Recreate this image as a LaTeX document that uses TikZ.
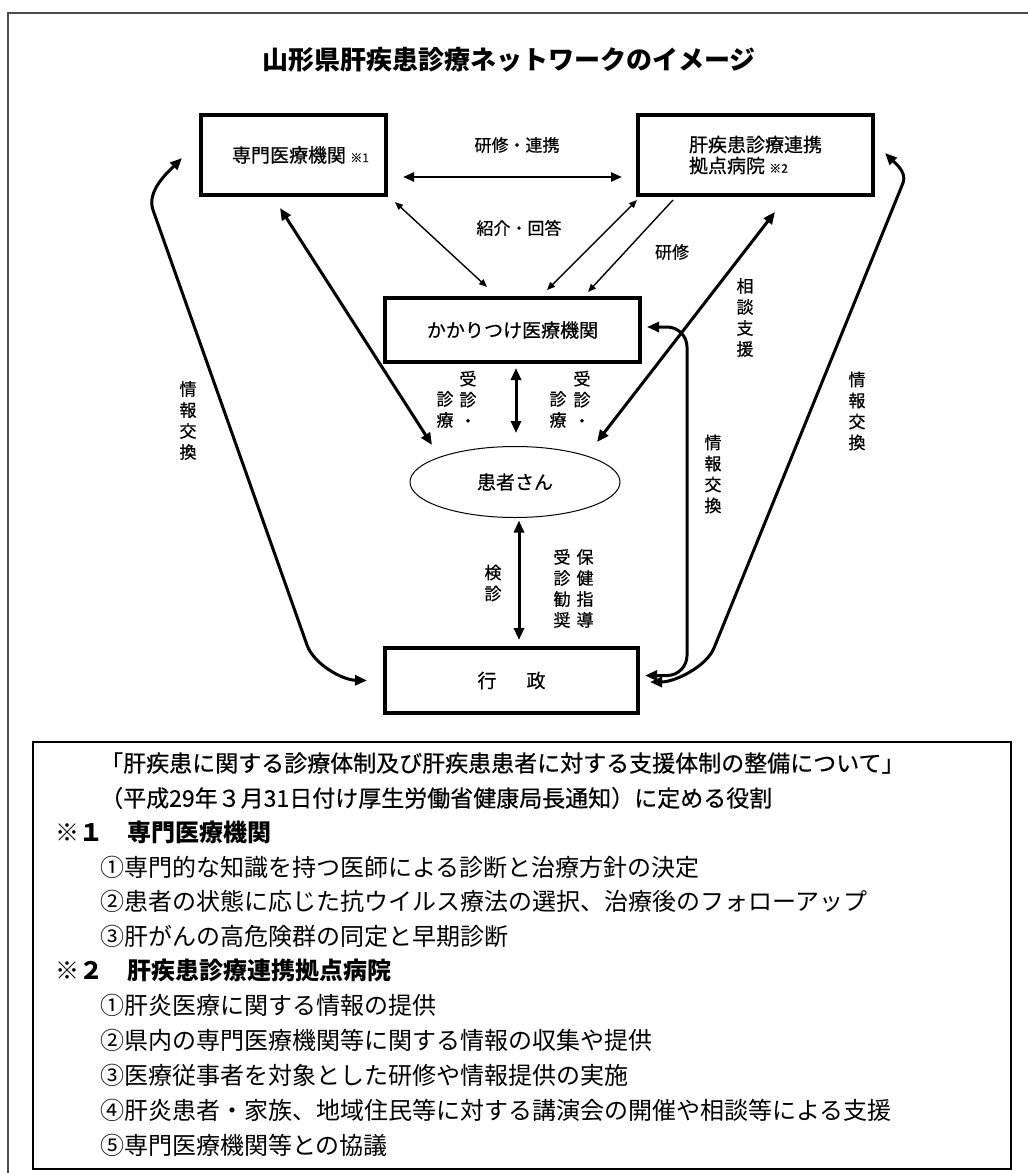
\documentclass[tikz,border=0pt]{standalone}
\usepackage{fontspec}
\newfontfamily\jp{Noto Sans CJK JP}
\newfontfamily\jpm{Noto Sans CJK JP}[FakeBold=0.5]
\usetikzlibrary{arrows.meta,shapes.geometric}

\begin{document}
\begin{tikzpicture}[x=1pt, y=-1pt,
        box/.style={draw, line width=3.2pt, outer sep=0pt, inner sep=0pt, font=\jpm\fontsize{19}{21}\selectfont},
        lbl/.style={inner sep=0pt, align=center, font=\jpm\fontsize{17}{21}\selectfont},
        note/.style={anchor=west, inner sep=0pt, font=\jp\fontsize{24}{28}\selectfont},
        notehead/.style={anchor=west, inner sep=0pt, font=\jpm\fontsize{23}{28}\selectfont},
        notesec/.style={anchor=west, inner sep=0pt, font=\jp\bfseries\fontsize{24}{28}\selectfont},
        thickarr/.style={line width=3pt, >={Triangle[length=12pt,width=10pt]}, <->},
        midarr/.style={line width=2.4pt, >={Triangle[length=11pt,width=9pt]}, <->},
        thinarr/.style={line width=1.4pt, >={Triangle[length=8pt,width=6.5pt]}}]
            \useasboundingbox (0,0) rectangle (1028,1173);
            \draw[black!70, line width=1.3pt] (1028,13) -- (8,13) -- (8,1173);

            \node[font=\jp\bfseries\fontsize{26}{30}\selectfont] (title) at (509,60) {山形県肝疾患診療ネットワークのイメージ};

            \node[box, minimum width=185pt, minimum height=80pt] (senmon) at (293.5,155) {\hspace*{14pt}専門医療機関 {\fontsize{12}{12}\selectfont ※1}};
            \node[box, minimum width=235pt, minimum height=80pt, align=left] (kyoten) at (755.5,155) {肝疾患診療連携\\拠点病院 {\fontsize{12}{12}\selectfont ※2}};
            \node[box, minimum width=255pt, minimum height=64pt] (kakari) at (512.5,330) {かかりつけ医療機関};
            \node[draw, ellipse, line width=1pt, inner sep=0pt, minimum width=210pt, minimum height=71pt, font=\jpm\fontsize{19}{21}\selectfont] (kanja) at (515,482) {患者さん};
            \node[box, minimum width=253pt, minimum height=65pt] (gyosei) at (511.5,680.5) {行\hspace{30pt}政};

            \draw[midarr] ([shift={(17,22)}]senmon.east) -- ([shift={(-16,22)}]kyoten.west);
            \node[lbl] (kenshurenkei) at (517,145) {研修・連携};
            \draw[thinarr, <->] ([shift={(9,7)}]senmon.south east) -- ([shift={(-25.5,-11)}]kakari.north);
            \node[lbl] (shokai) at (519,228) {紹介・回答};
            \draw[thinarr, <->] ([shift={(-1,5)}]kyoten.south west) -- ([shift={(34.5,-8)}]kakari.north);
            \draw[thinarr, ->] ([shift={(35,5)}]kyoten.south west) -- ([shift={(75.5,-6)}]kakari.north);
            \node[lbl] (kenshu) at (672,252) {研修};
            \node[lbl] (sodan) at (745,317.5) {相\\談\\支\\援};

            \draw[thickarr] ([shift={(-13.5,13)}]senmon.south) -- ([shift={(-83,-37)}]kanja.center);
            \draw[thickarr] ([shift={(19.5,17)}]kyoten.south) -- ([shift={(82,-40)}]kanja.center);
            \draw[thickarr] ([shift={(3.5,6)}]kakari.south) -- ([shift={(1,-13)}]kanja.north);
            \draw[thickarr] ([shift={(4,2.5)}]kanja.south) -- ([shift={(7.5,-8)}]gyosei.north);

            \node[lbl] (jushinla) at (468,399) {受\\診\\・};
            \node[lbl] (jushinlb) at (445,409.5) {診\\療};
            \node[lbl] (jushinra) at (582,399) {受\\診\\・};
            \node[lbl] (jushinrb) at (558,409.5) {診\\療};
            \node[lbl] (kenshin) at (493,583) {検\\診};
            \node[lbl] (hoken) at (585,588.5) {保\\健\\指\\導};
            \node[lbl] (kansho) at (562,588.5) {受\\診\\勧\\奨};

            \draw[thickarr] ([xshift=-18pt]gyosei.west) .. controls (342,680) and (313.7,663.9) .. (307,645) -- (153,210) .. controls (146.3,191.1) and (168,172) .. ([shift={(-19,3)}]senmon.west);
            \node[lbl] (johol) at (188,420.5) {情\\報\\交\\換};
            \draw[thickarr, rounded corners=20pt] ([shift={(7,-3)}]kakari.east) -| ([shift={(49,-5)}]gyosei.east) -- ([shift={(7,-5)}]gyosei.east);
            \node[lbl] (johom) at (713,474) {情\\報\\交\\換};
            \draw[thickarr] ([shift={(12,1.5)}]gyosei.east) .. controls (675,682) and (706.5,666.5) .. (714,648) -- (903,183) .. controls (907.5,171.9) and (893,161) .. ([shift={(12,-2)}]kyoten.east);
            \node[lbl] (johor) at (857,411) {情\\報\\交\\換};

            \node[draw, line width=1.2pt, inner sep=0pt, outer sep=0pt, minimum width=978pt, minimum height=427pt] (notebox) at (522,955.5) {};
            \node[notehead] (head1) at (100,763) {「肝疾患に関する診療体制及び肝疾患患者に対する支援体制の整備について」};
            \node[notehead] (head2) at (100,798) {（平成29年３月31日付け厚生労働省健康局長通知）に定める役割};
            \node[notesec] (sec1) at (55,832) {※１　専門医療機関};
            \node[note] (sec1a) at (100,867) {①専門的な知識を持つ医師による診断と治療方針の決定};
            \node[note] (sec1b) at (100,901) {②患者の状態に応じた抗ウイルス療法の選択、治療後のフォローアップ};
            \node[note] (sec1c) at (100,936) {③肝がんの高危険群の同定と早期診断};
            \node[notesec] (sec2) at (55,970) {※２　肝疾患診療連携拠点病院};
            \node[note] (sec2a) at (100,1005) {①肝炎医療に関する情報の提供};
            \node[note] (sec2b) at (100,1040) {②県内の専門医療機関等に関する情報の収集や提供};
            \node[note] (sec2c) at (100,1075) {③医療従事者を対象とした研修や情報提供の実施};
            \node[note] (sec2d) at (100,1110) {④肝炎患者・家族、地域住民等に対する講演会の開催や相談等による支援};
            \node[note] (sec2e) at (100,1145) {⑤専門医療機関等との協議};
        \end{tikzpicture}
\end{document}
